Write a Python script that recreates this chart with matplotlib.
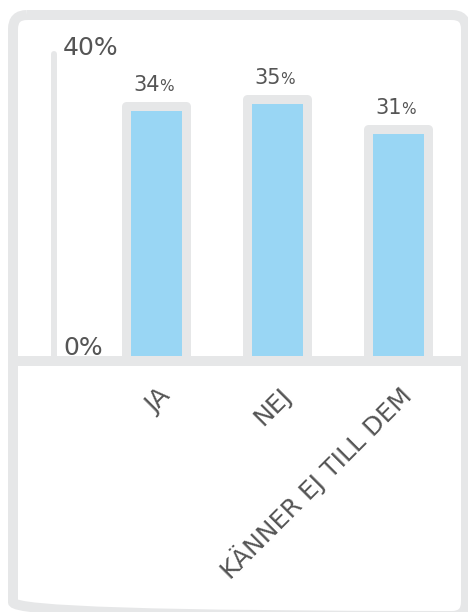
import matplotlib
matplotlib.use("Agg")
import matplotlib.pyplot as plt
from matplotlib.patches import FancyBboxPatch
from matplotlib.transforms import ScaledTranslation

categories = ["JA", "NEJ", "KÄNNER EJ TILL DEM"]
values = [34, 35, 31]
yticks = [0, 40]
ytick_labels = ["0%", "40%"]
y_max = 41

GRAY = "#e6e7e8"
BLUE = "#99d6f4"
TEXT = "#555555"
DPI = 100
W, H = 468, 612

def px(v):
    return v * 72.0 / DPI

fig = plt.figure(figsize=(W / DPI, H / DPI), dpi=DPI)
fig.patch.set_facecolor("white")

# decorative frame in pixel coordinates
deco = fig.add_axes([0, 0, 1, 1], zorder=0)
deco.set_xlim(0, W)
deco.set_ylim(H, 0)
deco.axis("off")
deco.add_patch(FancyBboxPatch((13, 15), 453, 601,
                              boxstyle="round,pad=0,rounding_size=14",
                              fill=False, ec=GRAY, lw=px(10)))

# main axes
left_px, right_px, zero_px, top_px = 53.5, 466, 361, 53.5
ax = fig.add_axes([left_px / W, (H - zero_px) / H,
                   (right_px - left_px) / W, (zero_px - top_px) / H], zorder=1)
ax.set_facecolor("none")
step = 121.0
first_center = 155.5
x0 = (left_px - first_center) / step
x1 = (right_px - first_center) / step
ax.set_xlim(x0, x1)
ax.set_ylim(0, y_max)

xs = list(range(len(categories)))
bars = ax.bar(xs, values, width=60 / step, color=BLUE, edgecolor=GRAY,
              linewidth=px(9), zorder=1)
for b in bars:
    b.set_joinstyle("round")

for s in ["top", "right"]:
    ax.spines[s].set_visible(False)
ax.spines["left"].set_color(GRAY)
ax.spines["left"].set_linewidth(px(6))
ax.spines["left"].set_capstyle("round")
ax.spines["left"].set_bounds(0, y_max)
ax.spines["bottom"].set_color(GRAY)
ax.spines["bottom"].set_linewidth(px(10))
ax.spines["bottom"].set_bounds((18 - first_center) / step, x1 + 1)
ax.spines["bottom"].set_zorder(3)

ax.set_yticks([])
for t, lab in zip(yticks, ytick_labels):
    ax.annotate(lab, xy=(0, t), xycoords=("axes fraction", "data"),
                xytext=(9.5, 6), textcoords="offset pixels",
                ha="left", va="baseline", fontsize=18, color=TEXT)

ax.set_xticks(xs, categories)
ax.tick_params(axis="x", length=0, pad=px(36), labelsize=18, labelcolor=TEXT)
offset = ScaledTranslation(16 / DPI, 0, fig.dpi_scale_trans)
for lbl in ax.get_xticklabels():
    lbl.set_rotation(45)
    lbl.set_ha("right")
    lbl.set_va("baseline")
    lbl.set_rotation_mode("anchor")
    lbl.set_transform(lbl.get_transform() + offset)

for x, v in zip(xs, values):
    ax.annotate(f"{v}", xy=(x, v), xytext=(4, 15), textcoords="offset pixels",
                ha="right", va="baseline", fontsize=15, color=TEXT)
    ax.annotate("%", xy=(x, v), xytext=(4, 15), textcoords="offset pixels",
                ha="left", va="baseline", fontsize=11, color=TEXT)

fig.savefig("out.png", dpi=DPI, facecolor="white")
